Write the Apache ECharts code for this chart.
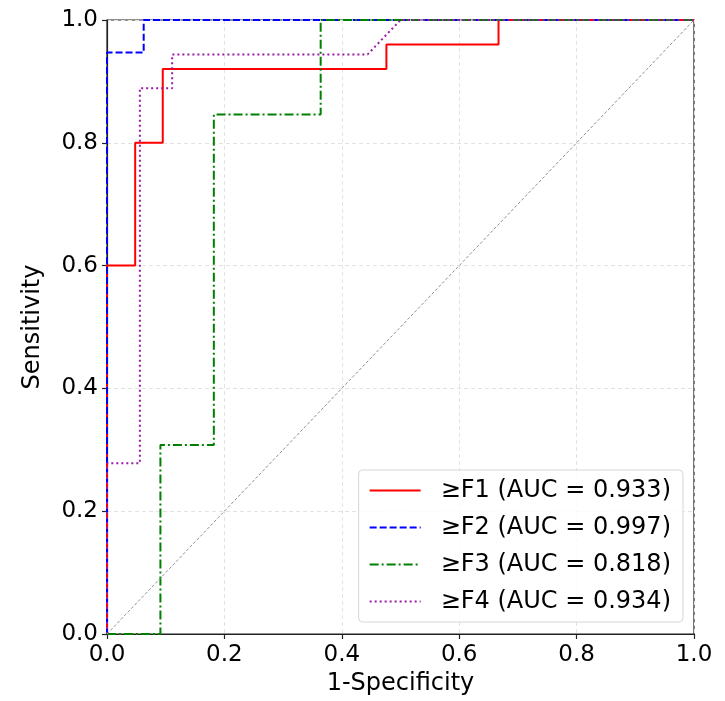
<!DOCTYPE html>
<html>
<head>
<meta charset="utf-8">
<script src="https://cdn.jsdelivr.net/npm/echarts@6/dist/echarts.min.js"></script>
<style>
html,body{margin:0;padding:0;background:#fff;}
#chart{width:725px;height:701px;}
</style>
</head>
<body>
<div id="chart"></div>
<script>
// ROC curve points (false positive rate, true positive rate)
const f1_fpr = [0, 0, 0.048, 0.048, 0.095, 0.095, 0.476, 0.476, 0.667, 0.667, 1];
const f1_tpr = [0, 0.60, 0.60, 0.80, 0.80, 0.92, 0.92, 0.96, 0.96, 1, 1];
const f2_fpr = [0, 0, 0.0625, 0.0625, 1];
const f2_tpr = [0, 0.947, 0.947, 1, 1];
const f3_fpr = [0, 0.091, 0.091, 0.182, 0.182, 0.364, 0.364, 1];
const f3_tpr = [0, 0, 0.308, 0.308, 0.846, 0.846, 1, 1];
const f4_fpr = [0, 0, 0.056, 0.056, 0.111, 0.111, 0.444, 0.5, 1];
const f4_tpr = [0, 0.278, 0.278, 0.889, 0.889, 0.944, 0.944, 1, 1];
const diag_x = [0, 1];
const diag_y = [0, 1];
const seriesNames = ['≥F1 (AUC = 0.933)', '≥F2 (AUC = 0.997)', '≥F3 (AUC = 0.818)', '≥F4 (AUC = 0.934)'];

const zip = (xs, ys) => xs.map((x, i) => [x, ys[i]]);
const FONT = 'DejaVu Sans';

const chart = echarts.init(document.getElementById('chart'), null, {renderer: 'canvas'});

function mkSeries(name, xs, ys, color, type, width) {
  return {
    name: name,
    type: 'line',
    data: zip(xs, ys),
    showSymbol: false,
    symbol: 'none',
    clip: false,
    animation: false,
    color: color,
    itemStyle: {color: color},
    lineStyle: {color: color, width: width, type: type},
    emphasis: {disabled: true}
  };
}

const option = {
  backgroundColor: '#fff',
  animation: false,
  textStyle: {fontFamily: FONT},
  grid: {
    left: 107, right: 31, top: 20, bottom: 67,
    show: true, borderColor: '#222', borderWidth: 1.2, backgroundColor: 'transparent'
  },
  xAxis: {
    type: 'value', min: 0, max: 1, interval: 0.2,
    name: '1-Specificity', nameLocation: 'middle', nameGap: 31,
    nameTextStyle: {fontSize: 24, color: '#000', fontFamily: FONT},
    axisLine: {show: true, lineStyle: {color: '#222', width: 1.2}},
    axisTick: {show: true, length: 5, lineStyle: {color: '#222', width: 1.2}},
    axisLabel: {fontSize: 23, color: '#000', fontFamily: FONT, margin: 10,
      formatter: v => v.toFixed(1)},
    splitLine: {show: true, lineStyle: {color: '#e3e3e3', type: [4, 3], width: 1}}
  },
  yAxis: {
    type: 'value', min: 0, max: 1, interval: 0.2,
    name: 'Sensitivity', nameLocation: 'middle', nameGap: 62, nameRotate: 90,
    nameTextStyle: {fontSize: 24, color: '#000', fontFamily: FONT},
    axisLine: {show: true, lineStyle: {color: '#222', width: 1.2}},
    axisTick: {show: true, length: 5, lineStyle: {color: '#222', width: 1.2}},
    axisLabel: {fontSize: 23, color: '#000', fontFamily: FONT, margin: 9,
      formatter: v => v.toFixed(1)},
    splitLine: {show: true, lineStyle: {color: '#e3e3e3', type: [4, 3], width: 1}}
  },
  legend: {
    show: true,
    data: seriesNames,
    orient: 'vertical',
    right: 42, bottom: 79,
    backgroundColor: 'rgba(255,255,255,0.8)',
    borderColor: '#d6d6d6', borderWidth: 1, borderRadius: 4,
    padding: [8, 12, 8, 10],
    itemWidth: 51, itemHeight: 14, itemGap: 12,
    itemStyle: {opacity: 0, borderWidth: 0},
    textStyle: {fontSize: 24, color: '#000', fontFamily: FONT, padding: [0, 0, 0, 15], lineHeight: 25},
    selectedMode: false
  },
  series: [
    mkSeries(seriesNames[0], f1_fpr, f1_tpr, '#ff0000', 'solid', 2),
    mkSeries(seriesNames[1], f2_fpr, f2_tpr, '#0000ff', [7, 3], 2),
    mkSeries(seriesNames[2], f3_fpr, f3_tpr, '#008000', [9, 3, 2, 3], 2),
    mkSeries(seriesNames[3], f4_fpr, f4_tpr, '#9a1aa6', [2, 3], 2),
    {
      name: 'diag', type: 'line', data: zip(diag_x, diag_y),
      showSymbol: false, symbol: 'none', clip: false, silent: true,
      lineStyle: {color: '#909090', width: 1, type: [3, 2]}
    }
  ]
};
chart.setOption(option);
</script>
</body>
</html>
